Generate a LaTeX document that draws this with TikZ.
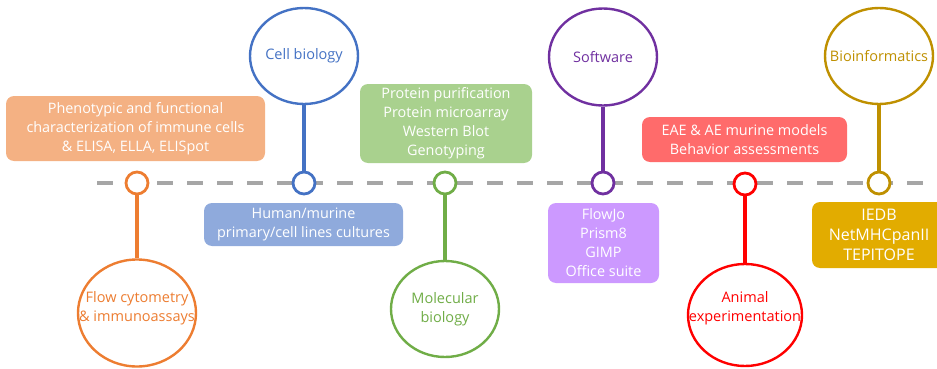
\documentclass[tikz,border=0pt]{standalone}
\usepackage{fontspec}
\setmainfont{Open Sans}
\usepackage{tikz}
\usetikzlibrary{shapes.geometric, positioning}

\definecolor{flowline}{HTML}{ED7D31}
\definecolor{flowfill}{HTML}{F4B183}
\definecolor{cellline}{HTML}{4472C4}
\definecolor{cellfill}{HTML}{8FAADC}
\definecolor{molline}{HTML}{70AD47}
\definecolor{molfill}{HTML}{A9D18E}
\definecolor{softline}{HTML}{7030A0}
\definecolor{softfill}{HTML}{CC99FF}
\definecolor{animline}{HTML}{FF0000}
\definecolor{animfill}{HTML}{FF6B6B}
\definecolor{bioline}{HTML}{BF9000}
\definecolor{biofill}{HTML}{E2AC00}
\definecolor{axisgray}{HTML}{A6A6A6}

\begin{document}
\begin{tikzpicture}[x=1pt, y=-1pt,
    dot/.style={circle, draw=#1, fill=white, line width=2.8pt, minimum size=22pt, inner sep=0pt},
    topic/.style={ellipse, draw=#1, fill=white, line width=2.4pt, inner sep=0pt},
    topictext/.style={align=center, font=\fontsize{14.5}{19}\selectfont},
    infobox/.style={rectangle, rounded corners=8pt, text=white, align=center, inner sep=0pt,
      font=\fontsize{14.4}{19}\selectfont},
    stem/.style={line width=3.2pt}]
      \useasboundingbox (0,0) rectangle (937,369);
      % timeline
      \coordinate (tl-start) at (97,183);
      \coordinate (tl-end) at (931,183);
      \draw[axisgray, line width=4pt, dash pattern=on 16pt off 14pt] (tl-start) -- (tl-end);

      % flow cytometry
      \node[infobox, fill=flowfill, minimum width=259pt, minimum height=65pt] (flow-box) at (135.5,128.5)
        {Phenotypic and functional\\characterization of immune cells\\\& ELISA, ELLA, ELISpot};
      \node[dot=flowline] (flow-dot) at (137,183) {};
      \node[topic=flowline, minimum width=118pt, minimum height=107pt] (flow) at (137,313) {};
      \node[topictext, text=flowline] (flow-txt) at ([yshift=5pt]flow.center) {Flow cytometry\\\& immunoassays};
      \draw[stem, flowline] (flow-dot.south) -- (flow.north);

      % cell biology
      \node[infobox, fill=cellfill, minimum width=199pt, minimum height=43pt] (cell-box) at (303.5,224.5)
        {Human/murine\\primary/cell lines cultures};
      \node[dot=cellline] (cell-dot) at (304,183) {};
      \node[topic=cellline, minimum width=108pt, minimum height=96pt] (cell) at (304,56) {};
      \node[topictext, text=cellline] (cell-txt) at (cell) {Cell biology};
      \draw[stem, cellline] (cell-dot.north) -- (cell.south);

      % molecular biology
      \node[infobox, fill=molfill, minimum width=172pt, minimum height=79pt] (mol-box) at (446,123.5)
        {Protein purification\\Protein microarray\\Western Blot\\Genotyping};
      \node[dot=molline] (mol-dot) at (445,183) {};
      \node[topic=molline, minimum width=108pt, minimum height=96pt] (mol) at (445,309) {};
      \node[topictext, text=molline] (mol-txt) at (mol) {Molecular\\biology};
      \draw[stem, molline] (mol-dot.south) -- (mol.north);

      % software
      \node[infobox, fill=softfill, minimum width=111pt, minimum height=80pt] (soft-box) at (603.5,243)
        {FlowJo\\Prism8\\GIMP\\Office suite};
      \node[dot=softline] (soft-dot) at (603,183) {};
      \node[topic=softline, minimum width=108pt, minimum height=97pt] (soft) at (603,57) {};
      \node[topictext, text=softline] (soft-txt) at (soft) {Software};
      \draw[stem, softline] (soft-dot.north) -- (soft.south);

      % animal experimentation
      \node[infobox, fill=animfill, minimum width=205pt, minimum height=45pt] (anim-box) at (744.5,139.5)
        {EAE \& AE murine models\\Behavior assessments};
      \node[dot=animline] (anim-dot) at (745,184) {};
      \node[topic=animline, minimum width=114pt, minimum height=102pt] (anim) at (745,315) {};
      \node[topictext, text=animline] (anim-txt) at ([yshift=7pt]anim.center) {Animal\\experimentation};
      \draw[stem, animline] (anim-dot.south) -- (anim.north);

      % bioinformatics
      \node[infobox, fill=biofill, minimum width=134pt, minimum height=66pt,
        font=\fontsize{16}{20}\selectfont] (bio-box) at (879,235) {IEDB\\NetMHCpanII\\TEPITOPE};
      \node[dot=bioline] (bio-dot) at (879,183) {};
      \node[topic=bioline, minimum width=108pt, minimum height=96pt] (bio) at (879,56) {};
      \node[topictext, text=bioline] (bio-txt) at (bio) {Bioinformatics};
      \draw[stem, bioline] (bio-dot.north) -- (bio.south);
    \end{tikzpicture}
\end{document}
